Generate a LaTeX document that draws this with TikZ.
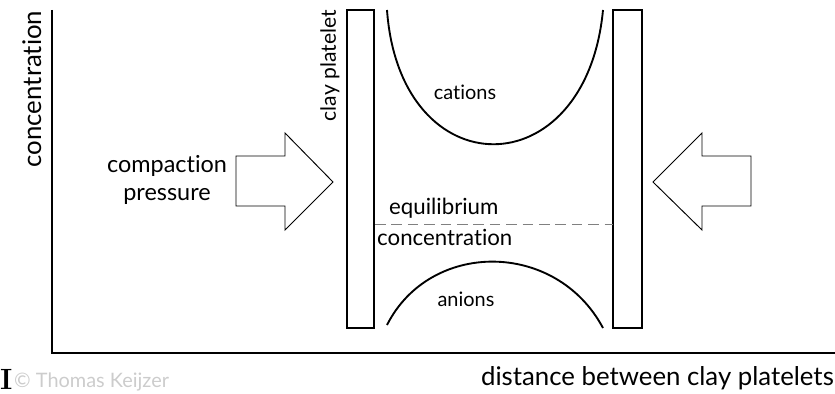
\documentclass[tikz,border=0pt]{standalone}
\usepackage{fontspec}
\newfontfamily\lblfont[Ligatures=NoCommon]{Lato}
\usepackage{tikz}
\usetikzlibrary{positioning}

\begin{document}
\begin{tikzpicture}[
  x=0.03cm, y=-0.03cm,
  lbl/.style={font=\lblfont\fontsize{17}{20}\selectfont, inner sep=0pt, align=center},
  biglbl/.style={lbl, font=\lblfont\fontsize{22}{26}\selectfont},
  axis/.style={line width=2.4pt},
  platelet/.style={draw, line width=1pt, fill=white},
  curve/.style={line width=1.6pt},
  blockarrow/.style={draw, line width=0.8pt, line join=miter}
]
\useasboundingbox (0,0) rectangle (835,394);

\draw[axis] (52,10) coordinate (ytop) -- (52,353) coordinate (origin) -- (835,353) coordinate (xend);
\node[biglbl, rotate=90] (yl) at (32,89) {concentration};
\node[biglbl, anchor=east] (xl) at (834,378) {distance between clay platelets};

\draw[platelet] (347,10) rectangle (374,328);
\draw[platelet] (613,10) rectangle (642,328);
\node[lbl, rotate=90, anchor=east, font=\lblfont\fontsize{18}{20}\selectfont] (clay) at (330,10) {clay platelet};

\draw[curve] (387,10) .. controls (400,189) and (586,189) .. (603,10);
\draw[curve] (387,325) .. controls (430,240) and (556,240) .. (603,328);
\node[lbl] (cat) at (465,92) {cations};
\node[lbl] (an) at (466,299) {anions};

\draw[gray, line width=0.8pt, dash pattern=on 9pt off 5pt] (375,224) coordinate (eqa) -- (613,224) coordinate (eqb);
\node[lbl, font=\lblfont\fontsize{19}{22}\selectfont, anchor=south west] (eq) at (389,219) {equilibrium};
\node[lbl, font=\lblfont\fontsize{19}{22}\selectfont, anchor=north west] (conc) at (377,229) {concentration};

\draw[blockarrow] (236,156) -- (285,156) -- (285,133) -- (333,182) -- (285,230) -- (285,206) -- (236,206) -- cycle;
\draw[blockarrow] (751,156) -- (702,156) -- (702,133) -- (653,182) -- (702,230) -- (702,206) -- (751,206) -- cycle;
\node[lbl, font=\lblfont\fontsize{20}{24}\selectfont] (press) at (167,180) {compaction\\pressure};

\node[font=\bfseries\fontsize{25}{28}\selectfont, inner sep=0pt, anchor=base west] (cur) at (0,389) {I};
\node[font=\lblfont\fontsize{17}{20}\selectfont, text=gray!40, inner sep=0pt, anchor=base west] (wm) at (14,387) {\textcopyright\ Thomas Keijzer};
\end{tikzpicture}
\end{document}
